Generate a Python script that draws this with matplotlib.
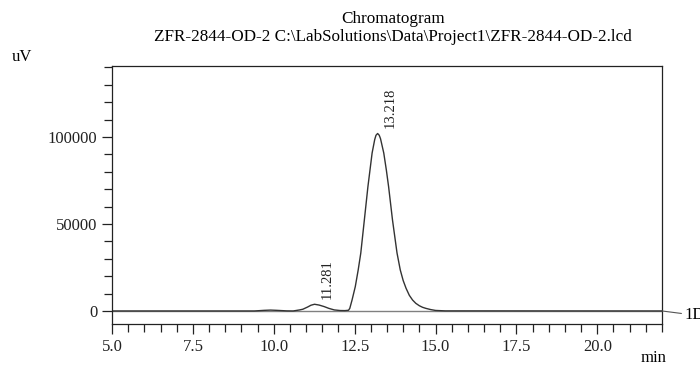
import numpy as np
import matplotlib
matplotlib.use("Agg")
import matplotlib.pyplot as plt
from matplotlib.ticker import MultipleLocator

plt.rcParams['font.family'] = ['Liberation Serif', 'DejaVu Serif']

# trace (min, uV)
time_min = [5.0, 9.4, 9.7, 9.9, 10.1, 10.4, 10.6, 10.8, 10.9, 11.05, 11.15, 11.26,
            11.4, 11.56, 11.7, 11.87, 12.05, 12.2, 12.31, 12.35, 12.42, 12.52, 12.61,
            12.69, 12.80, 12.91, 13.04, 13.12, 13.16, 13.21, 13.26, 13.30, 13.40,
            13.48, 13.55, 13.67, 13.81, 13.91, 14.0, 14.09, 14.19, 14.29, 14.39,
            14.5, 14.6, 14.7, 14.85, 15.0, 15.3, 22.0]
signal_uv = [0, 0, 350, 500, 350, 50, 0, 600, 1000, 2300, 3300, 3850,
             3400, 2500, 1500, 600, 250, 200, 400, 1500, 6300, 14000, 23600,
             33300, 52300, 71400, 90800, 98500, 101000, 102000, 101000, 99000, 90800,
             81000, 71400, 52300, 33300, 23600, 17500, 13000, 9000, 6300, 4400,
             3000, 2100, 1500, 800, 300, 50, 0]

peak_times = [11.281, 13.218]
peak_heights = [3850, 102000]

title1 = "Chromatogram"
title2 = "ZFR-2844-OD-2 C:\\LabSolutions\\Data\\Project1\\ZFR-2844-OD-2.lcd"

fig = plt.figure(figsize=(7, 3.7), dpi=100)
ax = fig.add_axes([0.160, 0.1243, 0.7857, 0.6973])

ax.axhline(0, color="#808080", lw=1.0, zorder=1)
ax.plot(time_min, signal_uv, color="#333333", lw=1.0, zorder=2)

for t, h in zip(peak_times, peak_heights):
    ax.annotate("%.3f" % t, xy=(t, h), xytext=(9, 4), textcoords="offset points",
                rotation=90, ha="center", va="bottom", fontsize=10.5, color="#222222")

ax.set_xlim(5.0, 22.0)
ax.set_ylim(-7500, 140800)
ax.xaxis.set_major_locator(MultipleLocator(2.5))
ax.xaxis.set_minor_locator(MultipleLocator(0.5))
ax.yaxis.set_major_locator(MultipleLocator(50000))
ax.yaxis.set_minor_locator(MultipleLocator(10000))
ax.xaxis.set_major_formatter(plt.FuncFormatter(lambda v, p: "%.1f" % v))
ax.tick_params(which="both", direction="out", labelsize=12, colors="#222222")
ax.tick_params(which="major", length=7, width=0.9)
ax.tick_params(which="minor", length=6, width=0.9)
for s in ax.spines.values():
    s.set_linewidth(0.9)
    s.set_color("#222222")

fig.text(0.561, 0.949, title1, ha="center", va="center", fontsize=12.3)
fig.text(0.561, 0.900, title2, ha="center", va="center", fontsize=12.3)
fig.text(0.017, 0.845, "uV", ha="left", va="center", fontsize=12)
fig.text(0.915, 0.032, "min", ha="left", va="center", fontsize=12)

# detector label on the right
ax.annotate("1D", xy=(1.0, 0), xycoords=("axes fraction", "data"), xytext=(16, -3),
            textcoords="offset points", ha="left", va="center", fontsize=12,
            arrowprops=dict(arrowstyle="-", color="#555555", lw=0.8, shrinkA=0, shrinkB=0),
            annotation_clip=False)

fig.savefig("out.png", dpi=100)
